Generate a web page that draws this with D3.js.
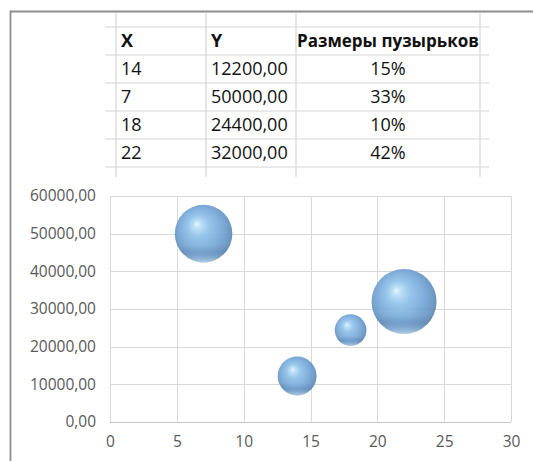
<!DOCTYPE html>
<html>
<head>
<meta charset="utf-8">
<script src="https://cdn.jsdelivr.net/npm/d3@7"></script>
<style>
  html, body { margin: 0; padding: 0; background: #fff; }
  svg { display: block; }
</style>
</head>
<body>
<svg id="sheet" width="533" height="461"></svg>
<script>
// Worksheet data
const xValues = [14, 7, 18, 22];
const yValues = [12200, 50000, 24400, 32000];
const bubbleSizes = [15, 33, 10, 42]; // percent
const headers = ["X", "Y", "Размеры пузырьков"];
const xTicks = [0, 5, 10, 15, 20, 25, 30];
const yTicks = [0, 10000, 20000, 30000, 40000, 50000, 60000];

const ruLocale = d3.formatLocale({ decimal: ",", thousands: "", grouping: [3], currency: ["", ""] });
const fmt2 = ruLocale.format(".2f");

const svg = d3.select("#sheet");
const FONT = "'Open Sans', 'Noto Sans', sans-serif";

// Sheet frame (top and left edges)
svg.append("path")
  .attr("d", "M10.5,461 V11.5 H533")
  .attr("fill", "none")
  .attr("stroke", "#8e8e8e")
  .attr("stroke-width", 1.8);

// ---- Table ----
const colEdges = [116, 206, 296, 480];
const rowEdges = [27, 55, 83, 111, 139, 167];
const grid = svg.append("g").attr("stroke", "#d6d6d6").attr("stroke-width", 1.2);
colEdges.forEach(x => grid.append("line").attr("x1", x).attr("x2", x).attr("y1", 13).attr("y2", 177));
rowEdges.forEach(y => grid.append("line").attr("x1", 105).attr("x2", 489).attr("y1", y).attr("y2", y));

const table = svg.append("g").attr("font-family", FONT).attr("font-size", 18).attr("fill", "#111");
const rowMid = i => (rowEdges[i] + rowEdges[i + 1]) / 2;
const pctCenter = (colEdges[2] + colEdges[3]) / 2;

table.append("text").attr("x", colEdges[0] + 5).attr("y", rowMid(0)).attr("dy", "0.36em")
  .attr("font-weight", "bold").text(headers[0]);
table.append("text").attr("x", colEdges[1] + 5).attr("y", rowMid(0)).attr("dy", "0.36em")
  .attr("font-weight", "bold").text(headers[1]);
table.append("text").attr("x", pctCenter).attr("y", rowMid(0)).attr("dy", "0.36em")
  .attr("text-anchor", "middle").attr("font-weight", "bold").attr("font-size", 17).text(headers[2]);

xValues.forEach((xv, i) => {
  const y = rowMid(i + 1);
  table.append("text").attr("x", colEdges[0] + 5).attr("y", y).attr("dy", "0.36em").text(xv);
  table.append("text").attr("x", colEdges[1] + 5).attr("y", y).attr("dy", "0.36em").text(fmt2(yValues[i]));
  table.append("text").attr("x", pctCenter).attr("y", y).attr("dy", "0.36em")
    .attr("text-anchor", "middle").text(bubbleSizes[i] + "%");
});

// ---- Bubble chart ----
const plot = { left: 110, right: 511, top: 196, bottom: 422 };
const x = d3.scaleLinear().domain([0, 30]).range([plot.left, plot.right]);
const y = d3.scaleLinear().domain([0, 60000]).range([plot.bottom, plot.top]);
const r = d3.scaleSqrt().domain([0, 42]).range([0, 32.5]);

const chart = svg.append("g");

// Gridlines
chart.append("g").selectAll("line").data(xTicks).join("line")
  .attr("x1", d => Math.round(x(d)) + 0.5).attr("x2", d => Math.round(x(d)) + 0.5)
  .attr("y1", plot.top).attr("y2", plot.bottom)
  .attr("stroke", "#d9d9d9").attr("stroke-width", 1);
chart.append("g").selectAll("line").data(yTicks).join("line")
  .attr("x1", plot.left).attr("x2", plot.right)
  .attr("y1", d => Math.round(y(d)) + 0.5).attr("y2", d => Math.round(y(d)) + 0.5)
  .attr("stroke", d => d === 0 ? "#c8c8c8" : "#d9d9d9").attr("stroke-width", 1);

// Axes (labels only; lines come from the grid)
const yAxis = d3.axisLeft(y).tickValues(yTicks).tickFormat(fmt2).tickSize(0).tickPadding(14);
const xAxis = d3.axisBottom(x).tickValues(xTicks).tickSize(0).tickPadding(14);

chart.append("g").attr("transform", `translate(${plot.left},0)`).call(yAxis)
  .call(g => g.select(".domain").remove())
  .call(g => g.selectAll("text").attr("font-family", FONT).attr("font-size", 15.5).attr("fill", "#595959"));
chart.append("g").attr("transform", `translate(0,${plot.bottom})`).call(xAxis)
  .call(g => g.select(".domain").remove())
  .call(g => g.selectAll("text").attr("font-family", FONT).attr("font-size", 15.5).attr("fill", "#595959"));

// Sphere shading
const defs = svg.append("defs");
const body = defs.append("radialGradient").attr("id", "sphereBody")
  .attr("cx", "48%").attr("cy", "45%").attr("r", "58%").attr("fx", "38%").attr("fy", "33%");
[[0, "#e6f7ff"], [0.1, "#b9e0f8"], [0.32, "#8fc0e8"], [0.62, "#76a8d8"], [0.84, "#6592c2"], [1, "#57809f"]]
  .forEach(([o, c]) => body.append("stop").attr("offset", o).attr("stop-color", c));

const rim = defs.append("linearGradient").attr("id", "sphereRim")
  .attr("x1", 0).attr("y1", 0).attr("x2", 0).attr("y2", 1);
[[0, "#ffffff", 0], [0.62, "#ffffff", 0], [0.8, "#3d6488", 0.12], [0.92, "#bfe2fb", 0.3], [1, "#e4f4ff", 0.65]]
  .forEach(([o, c, a]) => rim.append("stop").attr("offset", o).attr("stop-color", c).attr("stop-opacity", a));

const soft = defs.append("filter").attr("id", "soft").attr("x", "-10%").attr("y", "-10%").attr("width", "120%").attr("height", "120%");
soft.append("feGaussianBlur").attr("stdDeviation", 0.5);

const order = d3.range(xValues.length).sort((a, b) => bubbleSizes[b] - bubbleSizes[a]);
const bubbles = chart.append("g").attr("filter", "url(#soft)")
  .selectAll("g").data(order).join("g")
  .attr("transform", i => `translate(${x(xValues[i])},${y(yValues[i])})`);

bubbles.append("circle")
  .attr("r", i => r(bubbleSizes[i]))
  .attr("fill", "url(#sphereBody)")
  .attr("fill-opacity", 0.92);
bubbles.append("circle")
  .attr("r", i => r(bubbleSizes[i]))
  .attr("fill", "url(#sphereRim)");
</script>
</body>
</html>
